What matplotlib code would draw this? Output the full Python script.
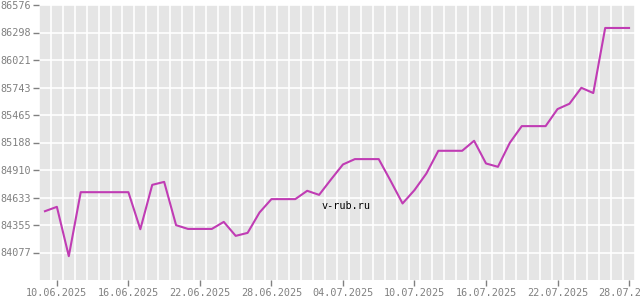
import matplotlib
matplotlib.use("Agg")
import matplotlib.pyplot as plt
import matplotlib.dates as mdates
import numpy as np
import datetime as dt

start = dt.date(2025, 6, 9)
values = [84494, 84538, 84040, 84686, 84686, 84686, 84686, 84686, 84312, 84760,
          84790, 84353, 84315, 84315, 84315, 84386, 84245, 84275, 84481, 84616,
          84616, 84616, 84700, 84659, 84815, 84966, 85020, 85020, 85020, 84800,
          84572, 84707, 84875, 85104, 85104, 85104, 85205, 84976, 84942, 85185,
          85353, 85353, 85353, 85525, 85579, 85740, 85687, 86344, 86344, 86344]
dates = [start + dt.timedelta(days=i) for i in range(len(values))]

ytick_labels = ["84077", "84355", "84633", "84910", "85188",
                "85465", "85743", "86021", "86298", "86576"]
xtick_dates = ["10.06.2025", "16.06.2025", "22.06.2025", "28.06.2025", "04.07.2025",
               "10.07.2025", "16.07.2025", "22.07.2025", "28.07.2025"]

fig = plt.figure(figsize=(6.4, 3.0), dpi=100)
ax = fig.add_axes([39/640, 20/300, 596/640, 275/300])
ax.set_facecolor("#e5e5e5")

xd = mdates.date2num(dates)
ax.plot(xd, values, color="#c03cb4", lw=1.5, zorder=3)

yt = np.linspace(84077, 86576, 10)
step = yt[1] - yt[0]
ax.set_ylim(yt[0] - step, yt[-1])
ax.set_yticks(yt)
ax.set_yticklabels(ytick_labels)

xt = [mdates.date2num(dt.datetime.strptime(s, "%d.%m.%Y")) for s in xtick_dates]
ax.set_xticks(xt)
ax.set_xticklabels(xtick_dates)
x10 = xt[0]
ax.set_xlim(x10 - 16/11.965, xt[-1] + 5.5/11.965)
minor = np.arange(x10 - 1.5, xt[-1] + 1, 1.0)
ax.set_xticks(minor, minor=True)

ax.grid(True, which="major", axis="y", color="white", lw=1.2)
ax.grid(True, which="minor", axis="x", color="white", lw=1.2)
ax.set_axisbelow(True)
for s in ax.spines.values():
    s.set_visible(False)
ax.tick_params(axis="both", which="major", length=4, width=1, color="#808080",
               labelcolor="#808080", labelsize=7.3, pad=1.5)
ax.tick_params(axis="x", which="minor", length=0)
for lab in ax.get_xticklabels() + ax.get_yticklabels():
    lab.set_family("DejaVu Sans Mono")

ax.text(0.515, 0.27, "v-rub.ru", transform=ax.transAxes, ha="center", va="center",
        fontsize=7.3, family="DejaVu Sans Mono", color="black", zorder=4)

fig.savefig("out.png", dpi=100, facecolor="white")
